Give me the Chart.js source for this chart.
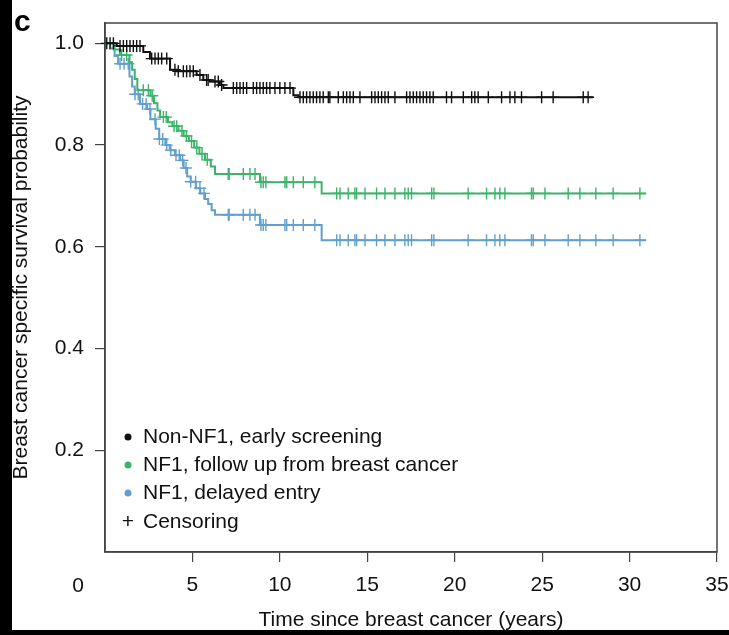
<!DOCTYPE html>
<html>
<head>
<meta charset="utf-8">
<script src="https://cdn.jsdelivr.net/npm/chart.js@4.4.1/dist/chart.umd.min.js"></script>
<style>
  html, body { margin: 0; padding: 0; background: #fff; }
  #wrap { width: 729px; height: 635px; }
</style>
</head>
<body>
<div id="wrap"><canvas id="kmChart" width="729" height="635"></canvas></div>
<script>
// Kaplan-Meier steps: time (years) and survival after each drop
const nonNf1Times = [0, 0.67, 2.19, 2.57, 3.72, 4.1, 5.24, 5.62, 6.0, 6.57, 6.77, 10.77, 11.06, 27.9];
const nonNf1Surv  = [1.0, 0.995, 0.983, 0.970, 0.948, 0.945, 0.938, 0.928, 0.925, 0.918, 0.912, 0.898, 0.894, 0.894];

const followTimes = [0, 0.5, 0.85, 1.4, 1.55, 1.7, 1.85, 2.6, 2.8, 3.0, 3.15, 3.6, 3.85, 4.2, 4.5, 4.8, 5.1, 5.4, 5.72, 6.05, 6.29, 8.86, 12.39, 30.95];
const followSurv  = [1.0, 0.988, 0.977, 0.963, 0.948, 0.93, 0.908, 0.897, 0.882, 0.868, 0.855, 0.845, 0.837, 0.828, 0.818, 0.808, 0.795, 0.783, 0.771, 0.758, 0.743, 0.727, 0.705, 0.705];

const delayedTimes = [0, 0.3, 0.55, 0.75, 1.4, 1.55, 1.7, 2.0, 2.4, 2.6, 2.9, 3.1, 3.45, 3.7, 4.0, 4.3, 4.5, 4.7, 4.9, 5.2, 5.45, 5.72, 5.9, 6.1, 6.29, 8.86, 12.39, 30.95];
const delayedSurv  = [1.0, 0.99, 0.975, 0.96, 0.935, 0.915, 0.90, 0.881, 0.871, 0.851, 0.832, 0.812, 0.80, 0.79, 0.78, 0.77, 0.755, 0.738, 0.728, 0.715, 0.705, 0.694, 0.684, 0.672, 0.663, 0.643, 0.613, 0.613];

// censoring times (years)
const nonNf1Censor = [0.10, 0.29, 0.48, 0.86, 1.05, 1.24, 1.43, 1.62, 1.81, 2.0, 2.67, 2.86, 3.05, 3.24, 3.53,
  4.0, 4.19, 4.48, 4.67, 4.86, 5.05, 5.43, 5.81, 5.9, 6.29, 6.48, 6.67, 7.34, 7.53, 7.72, 7.91, 8.1, 8.48, 8.67,
  8.86, 9.05, 9.24, 9.43, 9.72, 10.0, 10.29, 10.58, 11.15, 11.34, 11.53, 11.72, 11.91, 12.10, 12.29, 12.48, 12.77,
  12.86, 13.34, 13.63, 13.82, 14.01, 14.20, 14.58, 15.25, 15.44, 15.63, 15.82, 16.01, 16.20, 16.58, 17.25, 17.44,
  17.63, 17.82, 18.01, 18.20, 18.39, 18.58, 18.77, 19.53, 19.82, 20.49, 20.97, 21.15, 21.34, 21.92, 22.68, 23.16,
  23.44, 23.82, 24.97, 25.63, 27.35, 27.63];
const followEarlyCensor = [0.95, 1.24, 2.19, 2.48, 2.7, 3.34, 3.5, 3.95, 4.1, 4.4, 4.65, 4.95, 5.25, 5.55, 5.85];
const delayedEarlyCensor = [0.86, 1.09, 1.33, 1.72, 1.9, 2.15, 2.35, 2.57, 2.86, 3.11, 3.3, 3.53, 3.76, 4.06, 4.25,
  4.44, 4.63, 4.9, 5.18, 5.43, 5.66];
const nf1LateCensor = [7.05, 7.1, 7.91, 8.29, 8.58, 8.92, 9.05, 9.2, 10.29, 10.39, 10.77, 11.34, 12.0, 13.25, 13.44,
  13.91, 14.29, 14.39, 14.87, 15.53, 16.01, 16.58, 17.15, 17.34, 17.53, 18.68, 18.81, 20.77, 21.82, 22.30, 22.58,
  22.87, 24.39, 24.49, 25.16, 26.49, 27.16, 28.07, 29.06, 30.59];

const xTicks = [5, 10, 15, 20, 25, 30, 35];
const yTicks = [0.2, 0.4, 0.6, 0.8, 1.0];

const legendLabels = ['Non-NF1, early screening', 'NF1, follow up from breast cancer', 'NF1, delayed entry', 'Censoring'];
const colBlack = '#111111';
const colGreen = '#3cb36a';
const colBlue = '#62a0cc';
const legendColors = [colBlack, colGreen, colBlue];

const FONT = "'Liberation Sans', Arial, Helvetica, sans-serif";
const FS = 21;
Chart.defaults.font.family = FONT;
Chart.defaults.color = '#111';

function survAt(times, surv, t) {
  let s = surv[0];
  for (let i = 0; i < times.length; i++) {
    if (times[i] <= t) s = surv[i];
    else break;
  }
  return s;
}
const stepPoints = (times, surv) => times.map((t, i) => ({ x: t, y: surv[i] }));
const censorPoints = (times, surv, cens) => cens.map(t => ({ x: t, y: survAt(times, surv, t) }));

function curve(times, surv, color) {
  return {
    type: 'line', data: stepPoints(times, surv), stepped: 'before',
    borderColor: color, borderWidth: 2, pointRadius: 0, fill: false
  };
}
function censor(times, surv, cens, color) {
  return {
    type: 'scatter', data: censorPoints(times, surv, cens), showLine: false,
    pointStyle: 'cross', pointRadius: 6, borderColor: color, borderWidth: 1.4,
    pointHoverRadius: 0, clip: false
  };
}

// page decoration, box, legend and the shifted "0" label
const decor = {
  id: 'decor',
  beforeDraw(chart) {
    const c = chart.ctx;
    c.save();
    c.fillStyle = '#fff';
    c.fillRect(0, 0, chart.width, chart.height);
    c.fillStyle = '#000';
    c.fillRect(0, 0, 12, chart.height);
    c.fillRect(0, 630, chart.width, chart.height - 630);
    c.font = "bold 30px " + FONT;
    c.textBaseline = 'alphabetic';
    c.fillText('c', 14, 31);
    c.restore();
  },
  afterDraw(chart) {
    const c = chart.ctx;
    const a = chart.chartArea;
    c.save();
    c.strokeStyle = '#444';
    c.lineWidth = 1.5;
    c.strokeRect(a.left, a.top, a.right - a.left, a.bottom - a.top);

    c.fillStyle = '#111';
    c.font = FS + "px " + FONT;
    c.textBaseline = 'middle';
    c.textAlign = 'center';
    c.fillText('0', 78, 586);

    c.textAlign = 'left';
    const rows = [437, 465, 493, 522];
    legendLabels.forEach((lab, i) => {
      if (i < legendColors.length) {
        c.fillStyle = legendColors[i];
        c.beginPath();
        c.arc(128, rows[i], 3.5, 0, Math.PI * 2);
        c.fill();
      } else {
        c.fillStyle = '#111';
        c.textAlign = 'center';
        c.fillText('+', 128, rows[i]);
        c.textAlign = 'left';
      }
      c.fillStyle = '#111';
      c.fillText(lab, 143, rows[i]);
    });
    c.restore();
  }
};

new Chart(document.getElementById('kmChart'), {
  data: {
    datasets: [
      curve(nonNf1Times, nonNf1Surv, colBlack),
      censor(nonNf1Times, nonNf1Surv, nonNf1Censor, colBlack),
      curve(followTimes, followSurv, colGreen),
      censor(followTimes, followSurv, followEarlyCensor.concat(nf1LateCensor), colGreen),
      curve(delayedTimes, delayedSurv, colBlue),
      censor(delayedTimes, delayedSurv, delayedEarlyCensor.concat(nf1LateCensor), colBlue)
    ]
  },
  options: {
    responsive: false,
    animation: false,
    layout: { padding: { top: 23, right: 12, left: 0, bottom: 0 } },
    plugins: { legend: { display: false }, tooltip: { enabled: false } },
    scales: {
      x: {
        type: 'linear', min: 0, max: 35,
        afterBuildTicks: s => { s.ticks = xTicks.map(v => ({ value: v })); },
        afterFit: s => { s.height = 83; s.paddingLeft = 0; s.paddingRight = 0; },
        grid: { drawOnChartArea: false, drawTicks: true, tickLength: 10, color: '#444', lineWidth: 1.2 },
        border: { display: true, color: '#444', width: 1.5 },
        ticks: { color: '#111', font: { size: FS }, padding: 11, maxRotation: 0, autoSkip: false },
        title: { display: true, text: 'Time since breast cancer (years)', color: '#111',
                 font: { size: FS }, padding: { top: 0, bottom: 2 } }
      },
      y: {
        type: 'linear', min: 0, max: 1.04,
        afterBuildTicks: s => { s.ticks = yTicks.map(v => ({ value: v })); },
        afterFit: s => { s.width = 105; s.paddingTop = 0; s.paddingBottom = 0; },
        grid: { drawOnChartArea: false, drawTicks: true, tickLength: 10, color: '#444', lineWidth: 1.2 },
        border: { display: true, color: '#444', width: 1.5 },
        ticks: { color: '#111', font: { size: FS }, padding: 11, callback: v => v.toFixed(1) },
        title: { display: true, text: 'Breast cancer specific survival probability', color: '#111',
                 font: { size: FS }, padding: { top: 9, bottom: 0 } }
      }
    }
  },
  plugins: [decor]
});
</script>
</body>
</html>
